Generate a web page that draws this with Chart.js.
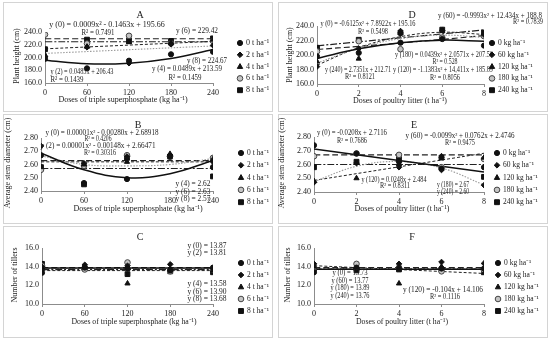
<!DOCTYPE html>
<html>
<head>
<meta charset="utf-8">
<script src="https://cdn.jsdelivr.net/npm/chart.js@4.4.0/dist/chart.umd.min.js"></script>
<style>
body { margin: 0; background: #fff; width: 550px; height: 340px; position: relative; overflow: hidden; }
.panel { position: absolute; }
.panel canvas { position: absolute; left: 0; top: 0; }
</style>
</head>
<body>
<script>
const serif = "'Liberation Serif', 'Times New Roman', serif";
Chart.defaults.font.family = serif;
Chart.defaults.font.size = 8;
Chart.defaults.color = '#222';

// doses on the x axes
const tspDoses = [0, 60, 120, 180, 240];
const litterDoses = [0, 2, 4, 6, 8];
const litterNames = ['0 t ha⁻¹', '2 t ha⁻¹', '4 t ha⁻¹', '6 t ha⁻¹', '8 t ha⁻¹'];
const tspNames = ['0 kg ha⁻¹', '60 kg ha⁻¹', '120 kg ha⁻¹', '180 kg ha⁻¹', '240 kg ha⁻¹'];

// A - plant height vs superphosphate (one row per litter dose)
const heightA = [
    [198, 183, 195, 205, 209],
    [201, 216, 191, 221, 219],
    [204, 217, 224, 223, 228],
    [236, 222, 234, 222, 226],
    [213, 228, 226, 226, 230]
];
// fitted lines: two values = straight line from first to last dose
const heightAFit = [
    [195.7, 190.1, 191.1, 198.5, 212.4],
    [206.4, 218.1],
    [213.6, 225.3],
    [229.4, 229.4],
    [224.7, 224.7]
];

// D - plant height vs poultry litter (one row per superphosphate dose)
const heightD = [
    [198, 203, 217, 222, 213],
    [184, 209, 229, 234, 228],
    [191, 195, 233, 233, 230],
    [205, 219, 208, 224, 226],
    [210, 221, 231, 235, 231]
];
const heightDFit = [
    [195.2, 208.5, 217.0, 220.5, 218.9],
    [188.8, 209.7, 222.5, 227.4, 224.3],
    [185.9, 210.2, 225.3, 231.4, 228.3],
    [207.6, 211.9, 216.5, 221.5, 226.8],
    [212.7, 234.6]
];

// B - stem diameter vs superphosphate
const stemB = [
    [2.67, 2.46, 2.49, 2.66, 2.58],
    [2.74, 2.61, 2.66, 2.67, 2.62],
    [2.58, 2.60, 2.62, 2.68, 2.64],
    [2.56, 2.59, 2.67, 2.66, 2.65],
    [2.58, 2.45, 2.65, 2.66, 2.51]
];
const stemBFit = [
    [2.685, 2.56, 2.50, 2.53, 2.63],
    [2.665, 2.60, 2.59, 2.60, 2.645],
    [2.62, 2.62],
    [2.63, 2.63],
    [2.57, 2.57]
];

// E - stem diameter vs poultry litter
const stemE = [
    [2.74, 2.68, 2.62, 2.57, 2.58],
    [2.47, 2.61, 2.58, 2.56, 2.45],
    [2.48, 2.50, 2.60, 2.66, 2.65],
    [2.66, 2.68, 2.67, 2.58, 2.64],
    [2.58, 2.62, 2.64, 2.65, 2.51]
];
const stemEFit = [
    [2.712, 2.545],
    [2.475, 2.587, 2.621, 2.575, 2.451],
    [2.484, 2.682],
    [2.67, 2.67],
    [2.60, 2.60]
];

// C - tillers vs superphosphate
const tillersC = [
    [13.35, 13.9, 13.8, 13.6, 13.9],
    [14.0, 14.2, 14.1, 14.25, 13.8],
    [13.9, 13.9, 12.2, 13.7, 13.6],
    [14.1, 13.7, 14.45, 13.5, 13.7],
    [14.3, 13.8, 13.2, 13.5, 13.4]
];
const tillersCFit = [
    [13.87, 13.87],
    [13.81, 13.81],
    [13.58, 13.58],
    [13.90, 13.90],
    [13.68, 13.68]
];

// F - tillers vs poultry litter
const tillersF = [
    [13.4, 13.9, 13.8, 13.8, 13.8],
    [14.3, 13.8, 14.3, 14.5, 14.35],
    [14.0, 13.7, 12.2, 14.0, 13.3],
    [13.9, 14.3, 13.9, 13.5, 13.6],
    [13.8, 13.6, 13.7, 13.7, 13.5]
];
const tillersFFit = [
    [13.73, 13.73],
    [13.77, 13.77],
    [14.106, 13.274],
    [13.89, 13.89],
    [13.76, 13.76]
];

const xTitleTsp = 'Doses of triple superphosphate (kg ha⁻¹)';
const xTitleLitter = 'Doses of poultry litter (t ha⁻¹)';

// look of the five series
const seriesStyle = [
    { point: 'circle', r: 2.6, fill: '#111', stroke: '#111', line: '#111', width: 1.5, dash: [] },
    { point: 'rectRot', r: 2.8, fill: '#111', stroke: '#111', line: '#9a9a9a', width: 1.1, dash: [1.5, 1.5] },
    { point: 'triangle', r: 3, fill: '#111', stroke: '#111', line: '#222', width: 1, dash: [3, 2] },
    { point: 'circle', r: 2.8, fill: '#c4c4c4', stroke: '#444', line: '#222', width: 1.2, dash: [6, 3] },
    { point: 'rect', r: 3.4, fill: '#111', stroke: '#111', line: '#222', width: 1.2, dash: [7, 2, 2, 2] }
];

// notes: [text, centre x, centre y, max width] in panel pixels
const panels = [
    {
        key: 'A', left: 3, top: 2, w: 270, h: 110, area: [42, 210, 30, 81],
        xs: tspDoses, pts: heightA, fit: heightAFit, names: litterNames,
        yMin: 160, yMax: 240, yStep: 10, dec: 1, fs: 8,
        yTitle: 'Plant height (cm)', yTitlePos: [14, 54], xTitle: xTitleTsp, xTitlePos: [120, 98], xTitleW: 143,
        titlePos: [137, 13], legend: [237, 41, 11.8],
        notes: [
            ['y (0) = 0.0009x² - 0.1463x + 195.66', 104, 23, 125],
            ['R² = 0.7491', 95, 31, 33],
            ['y (6) = 229.42', 194, 29, 42],
            ['y (8) = 224.67', 204, 59, 40],
            ['y (4) = 0.0489x + 213.59', 184, 67, 70],
            ['R² = 0.1459', 182, 76, 33],
            ['y (2) = 0.0485x + 206.43', 79, 70, 63],
            ['R² = 0.1439', 64, 78, 33]
        ]
    },
    {
        key: 'D', left: 278, top: 2, w: 270, h: 110, area: [39, 206, 24, 82],
        xs: litterDoses, pts: heightD, fit: heightDFit, names: tspNames,
        yMin: 160, yMax: 240, yStep: 20, dec: 1, fs: 7.5,
        yTitle: 'Plant height (cm)', yTitlePos: [12, 53], xTitle: xTitleLitter, xTitlePos: [122, 99], xTitleW: 94,
        titlePos: [134, 13], legend: [214, 41, 11.8],
        notes: [
            ['y (0) = -0.6125x² + 7.8922x + 195.16', 90, 22, 95],
            ['R² = 0.5498', 95, 30, 30],
            ['y (60) = -0.9993x² + 12.434x + 188.8', 212, 14, 104],
            ['R² = 0.7839', 250, 20, 30],
            ['y (180) = 0.0439x² + 2.0571x + 207.56', 166, 53, 98],
            ['R² = 0.528', 167, 60, 25],
            ['y (240) = 2.7351x + 212.71', 80, 68, 66],
            ['R² = 0.8121', 82, 75, 30],
            ['y (120) = -1.1383x² + 14,411x + 185.89', 165, 68, 100],
            ['R² = 0.8056', 167, 76, 30]
        ]
    },
    {
        key: 'B', left: 3, top: 114, w: 270, h: 110, area: [38, 210, 24, 77],
        xs: tspDoses, pts: stemB, fit: stemBFit, names: litterNames,
        yMin: 2.4, yMax: 2.8, yStep: 0.1, dec: 2, fs: 7.5,
        yTitle: 'Average stem diameter (cm)', yTitlePos: [5, 49], xTitle: xTitleTsp, xTitlePos: [135, 95], xTitleW: 133,
        titlePos: [135, 11], legend: [238, 39, 12.3],
        notes: [
            ['y (0) = 0.00001x² - 0.00280x + 2.68918', 99, 19, 113],
            ['R² = 0.4206', 95, 25, 27],
            ['y (2) = 0.00001x² - 0.00148x + 2.66471', 95, 32, 115],
            ['R² = 0.30316', 97, 39, 32],
            ['y (4) = 2.62', 190, 70, 35],
            ['y (6) = 2.63', 190, 78, 35],
            ['y (8) = 2.57', 190, 85, 35]
        ]
    },
    {
        key: 'E', left: 278, top: 114, w: 270, h: 110, area: [36, 206, 23, 78],
        xs: litterDoses, pts: stemE, fit: stemEFit, names: tspNames,
        yMin: 2.4, yMax: 2.8, yStep: 0.1, dec: 2, fs: 7.5,
        yTitle: 'Average stem diameter (cm)', yTitlePos: [4, 49], xTitle: xTitleLitter, xTitlePos: [124, 95], xTitleW: 95,
        titlePos: [136, 11], legend: [219, 39, 12.3],
        notes: [
            ['y (0) = -0.0208x + 2.7116', 74, 19, 70],
            ['R² = 0.7686', 74, 27, 30],
            ['y (60) = -0.0099x² + 0.0762x + 2.4746', 182, 22, 109],
            ['R² = 0.9475', 182, 29, 30],
            ['y (120) = 0.0248x + 2.484', 116, 66, 65],
            ['R² = 0.8311', 117, 72, 30],
            ['y (180) = 2.67', 175, 71, 32],
            ['y (240) = 2.60', 175, 78, 32]
        ]
    },
    {
        key: 'C', left: 3, top: 226, w: 270, h: 112, area: [39, 210, 22, 78],
        xs: tspDoses, pts: tillersC, fit: tillersCFit, names: litterNames,
        yMin: 10, yMax: 16, yStep: 1, dec: 1, fs: 7.5,
        yTitle: 'Number of tillers', yTitlePos: [12, 49], xTitle: xTitleTsp, xTitlePos: [131, 96], xTitleW: 125,
        titlePos: [137, 11], legend: [238, 37, 12],
        notes: [
            ['y (0) = 13.87', 204, 20, 40],
            ['y (2) = 13.81', 204, 27, 40],
            ['y (4) = 13.58', 204, 58, 40],
            ['y (6) = 13.90', 204, 66, 40],
            ['y (8) = 13.68', 204, 73, 40]
        ]
    },
    {
        key: 'F', left: 278, top: 226, w: 270, h: 112, area: [36, 206, 22, 78],
        xs: litterDoses, pts: tillersF, fit: tillersFFit, names: tspNames,
        yMin: 10, yMax: 16, yStep: 1, dec: 1, fs: 7.5,
        yTitle: 'Number of tillers', yTitlePos: [10, 49], xTitle: xTitleLitter, xTitlePos: [124, 96], xTitleW: 92,
        titlePos: [134, 11], legend: [220, 37, 12],
        notes: [
            ['y (0) = 13.73', 72, 47, 35],
            ['y (60) = 13.77', 72, 55, 37],
            ['y (180) = 13.89', 72, 62, 39],
            ['y (240) = 13.76', 72, 70, 39],
            ['y (120) = -0.104x + 14.106', 165, 64, 80],
            ['R² = 0.1116', 167, 71, 30]
        ]
    }
];

const X_AXIS_H = 14;

// legend marker, drawn the same way as the points
function drawMarker(ctx, s, x, y) {
    ctx.save();
    ctx.fillStyle = s.fill;
    ctx.strokeStyle = s.stroke;
    ctx.lineWidth = 1;
    ctx.beginPath();
    const r = s.r;
    if (s.point === 'circle') {
        ctx.arc(x, y, r, 0, Math.PI * 2);
    } else if (s.point === 'rectRot') {
        ctx.moveTo(x, y - r); ctx.lineTo(x + r, y); ctx.lineTo(x, y + r); ctx.lineTo(x - r, y);
        ctx.closePath();
    } else if (s.point === 'triangle') {
        ctx.moveTo(x, y - r); ctx.lineTo(x + r * 0.9, y + r * 0.6); ctx.lineTo(x - r * 0.9, y + r * 0.6);
        ctx.closePath();
    } else {
        const h = r * 0.72;
        ctx.rect(x - h, y - h, h * 2, h * 2);
    }
    ctx.fill();
    ctx.stroke();
    ctx.restore();
}

// titles, equations, legend and frame of a panel
const decorations = {
    id: 'decorations',
    afterDraw(chart) {
        const p = chart.options.plugins.decorations.panel;
        const ctx = chart.ctx;
        ctx.save();
        ctx.strokeStyle = '#d4d4d4';
        ctx.lineWidth = 1;
        ctx.strokeRect(0.5, 0.5, p.w - 1, p.h - 1);

        ctx.fillStyle = '#222';
        ctx.textAlign = 'center';
        ctx.textBaseline = 'middle';
        ctx.font = `10px ${serif}`;
        ctx.fillText(p.key, p.titlePos[0], p.titlePos[1]);

        ctx.font = `${p.fs}px ${serif}`;
        p.notes.forEach(n => ctx.fillText(n[0], n[1], n[2], n[3]));

        ctx.font = `8px ${serif}`;
        ctx.fillText(p.xTitle, p.xTitlePos[0], p.xTitlePos[1], p.xTitleW);
        ctx.save();
        ctx.translate(p.yTitlePos[0], p.yTitlePos[1]);
        ctx.rotate(-Math.PI / 2);
        ctx.fillText(p.yTitle, 0, 0);
        ctx.restore();

        ctx.textAlign = 'left';
        ctx.font = `${p.fs}px ${serif}`;
        p.names.forEach((name, i) => {
            const y = p.legend[1] + i * p.legend[2];
            drawMarker(ctx, seriesStyle[i], p.legend[0], y);
            ctx.fillStyle = '#222';
            ctx.fillText(name, p.legend[0] + 6, y);
        });
        ctx.restore();
    }
};

panels.forEach(p => {
    const div = document.createElement('div');
    div.className = 'panel';
    div.style.left = p.left + 'px';
    div.style.top = p.top + 'px';
    div.style.width = p.w + 'px';
    div.style.height = p.h + 'px';
    const canvas = document.createElement('canvas');
    canvas.width = p.w;
    canvas.height = p.h;
    div.appendChild(canvas);
    document.body.appendChild(div);

    const xLast = p.xs[p.xs.length - 1];
    const datasets = [];
    // fitted lines first so the markers sit on top
    p.fit.forEach((vals, i) => {
        const s = seriesStyle[i];
        const xs = vals.length === 2 ? [p.xs[0], xLast] : p.xs;
        datasets.push({
            type: 'line',
            data: vals.map((v, j) => ({ x: xs[j], y: v })),
            borderColor: s.line,
            borderWidth: s.width,
            borderDash: s.dash,
            pointRadius: 0,
            tension: 0.4,
            fill: false,
            order: 2
        });
    });
    p.pts.forEach((vals, i) => {
        const s = seriesStyle[i];
        datasets.push({
            type: 'scatter',
            label: p.names[i],
            data: vals.map((v, j) => ({ x: p.xs[j], y: v })),
            pointStyle: s.point,
            pointRadius: s.r,
            backgroundColor: s.fill,
            borderColor: s.stroke,
            borderWidth: 1,
            showLine: false,
            order: 1
        });
    });

    new Chart(canvas.getContext('2d'), {
        type: 'scatter',
        data: { datasets },
        options: {
            responsive: false,
            animation: false,
            events: [],
            layout: {
                autoPadding: false,
                padding: {
                    left: 0,
                    top: p.area[2],
                    right: p.w - p.area[1],
                    bottom: p.h - p.area[3] - X_AXIS_H
                }
            },
            plugins: {
                legend: { display: false },
                tooltip: { enabled: false },
                decorations: { panel: p }
            },
            scales: {
                x: {
                    type: 'linear',
                    min: p.xs[0],
                    max: xLast,
                    afterFit: s => { s.height = X_AXIS_H; },
                    ticks: { stepSize: p.xs[1] - p.xs[0], padding: 2, maxRotation: 0, font: { size: 8 }, color: '#222' },
                    grid: { drawOnChartArea: false, tickLength: 3, color: '#8c8c8c' },
                    border: { color: '#8c8c8c' }
                },
                y: {
                    min: p.yMin,
                    max: p.yMax,
                    afterFit: s => { s.width = p.area[0]; },
                    ticks: {
                        stepSize: p.yStep,
                        padding: 3,
                        font: { size: 8 },
                        color: '#222',
                        callback: v => Number(v).toFixed(p.dec)
                    },
                    grid: { drawOnChartArea: false, drawTicks: false },
                    border: { color: '#8c8c8c' }
                }
            }
        },
        plugins: [decorations]
    });
});
</script>
</body>
</html>
